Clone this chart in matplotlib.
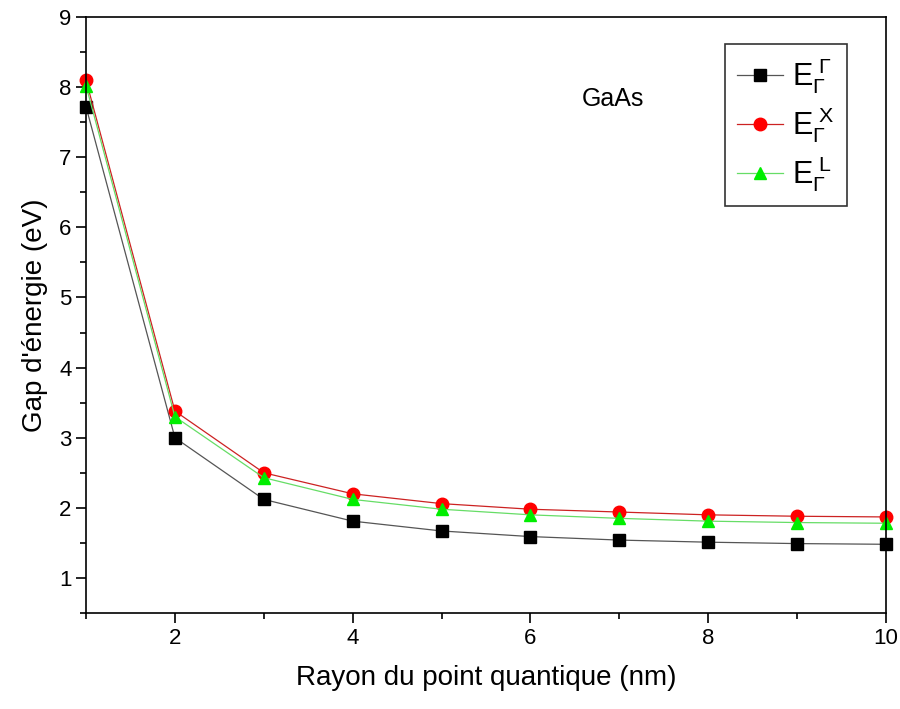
import numpy as np
import matplotlib.pyplot as plt
from matplotlib.ticker import MultipleLocator

plt.rcParams['font.family'] = ['Liberation Sans', 'DejaVu Sans']
plt.rcParams['mathtext.fontset'] = 'custom'
plt.rcParams['mathtext.rm'] = 'Liberation Sans'
plt.rcParams['mathtext.it'] = 'Liberation Sans'

rayon = [1, 2, 3, 4, 5, 6, 7, 8, 9, 10]
e_gamma = [7.72, 3.0, 2.12, 1.81, 1.67, 1.59, 1.54, 1.51, 1.49, 1.48]
e_x = [8.10, 3.38, 2.50, 2.20, 2.06, 1.98, 1.94, 1.90, 1.88, 1.87]
e_l = [8.02, 3.30, 2.43, 2.12, 1.98, 1.90, 1.85, 1.81, 1.79, 1.78]

fig = plt.figure(figsize=(9, 7.09), dpi=100)
ax = fig.add_axes([0.0956, 0.1354, 0.8888, 0.8406])

ax.plot(rayon, e_gamma, color='#555555', lw=0.9, marker='s', ms=8,
        mfc='black', mec='black', label=r'$\mathrm{E}_{\Gamma}^{\ \Gamma}$', clip_on=False)
ax.plot(rayon, e_x, color='#cc2222', lw=0.9, marker='o', ms=9,
        mfc='red', mec='red', label=r'$\mathrm{E}_{\Gamma}^{\ \mathrm{X}}$', clip_on=False)
ax.plot(rayon, e_l, color='#66dd66', lw=0.9, marker='^', ms=9,
        mfc='#00ee00', mec='#00ee00', label=r'$\mathrm{E}_{\Gamma}^{\ \mathrm{L}}$', clip_on=False)

ax.set_xlim(1, 10)
ax.set_ylim(0.5, 9)
ax.xaxis.set_major_locator(MultipleLocator(2))
ax.xaxis.set_minor_locator(MultipleLocator(1))
ax.yaxis.set_major_locator(MultipleLocator(1))
ax.yaxis.set_minor_locator(MultipleLocator(0.5))
ax.tick_params(which='both', direction='out', width=1.2, labelsize=16)
ax.tick_params(which='major', length=7)
ax.tick_params(which='minor', length=4)
for s in ax.spines.values():
    s.set_linewidth(1.2)

ax.set_xlabel("Rayon du point quantique (nm)", fontsize=20, labelpad=12)
ax.set_ylabel("Gap d'énergie (eV)", fontsize=20, labelpad=8)

ax.text(0.62, 0.862, "GaAs", transform=ax.transAxes, fontsize=18, va='center')

leg = ax.legend(loc='upper right', bbox_to_anchor=(0.951, 0.955), fontsize=22,
                frameon=True, fancybox=False, edgecolor='black', handlelength=1.5,
                labelspacing=0.3, borderpad=0.4, handletextpad=0.3,
                borderaxespad=0.0)
leg.get_frame().set_linewidth(1.2)

fig.savefig("out.png", dpi=100)
